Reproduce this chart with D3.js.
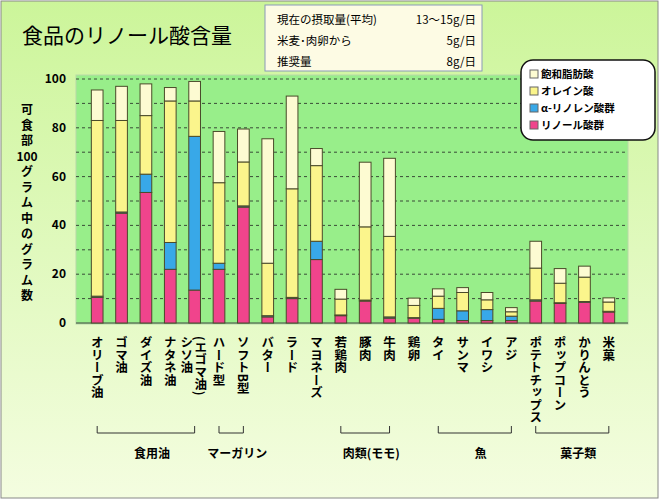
<!DOCTYPE html>
<html><head><meta charset="utf-8">
<script src="https://cdn.jsdelivr.net/npm/d3@7"></script>
<style>body{margin:0}svg{font-family:"Noto Sans CJK JP",sans-serif}</style>
</head><body><svg id="c" width="660" height="500"></svg>
<script>
var foods=["オリーブ油","ゴマ油","ダイズ油","ナタネ油","シソ油","ハード型","ソフトB型","バター","ラード","マヨネーズ","若鶏肉","豚肉","牛肉","鶏卵","タイ","サンマ","イワシ","アジ","ポテトチップス","ポップコーン","かりんとう","米菓"]
var linoleic=[10.5,45,53.5,22,13.5,22,47.5,2.5,10,26,3,9,2,2,1.5,1,1,1,9,8,8.5,4.5]
var linolenic=[0.5,0.5,7.5,11,63,2.5,0.5,0.5,0.5,7.5,0.3,0.4,0.5,0.2,4.5,4,4.5,1.8,0.5,0.3,0.3,0.3]
var oleic=[72,37.5,24,58,14.5,33,18,21.5,44.5,31,6.5,30,33,5,5,7.5,4,1.8,13,8,10,3.8]
var saturated=[12.5,14,13,5.5,8,21,13.5,51,38,7,4,26.5,32,3,3,2,3,1.7,11,6,4.5,1.7]
var seriesNames=["リノール酸群","α-リノレン酸群","オレイン酸","飽和脂肪酸"]
var colors=["#f0448c","#38a8e8","#fbf58c","#fdfbd2"]
var yTicks=[0,20,40,60,80,100]
var groups=[["食用油",0,4],["マーガリン",5,6],["肉類(モモ)",10,12],["魚",14,17],["菓子類",18,21]]
var infoLines=[["現在の摂取量(平均)","13～15g/日"],["米麦･肉卵から","5g/日"],["推奨量","8g/日"]]

var svg=d3.select("#c")
var defs=svg.append("defs")
var g=defs.append("linearGradient").attr("id","bg").attr("x1",0).attr("y1",0).attr("x2",0).attr("y2",1)
g.append("stop").attr("offset","0").attr("stop-color","#ccf59a")
g.append("stop").attr("offset","1").attr("stop-color","#f4fde0")
svg.append("rect").attr("x",1).attr("y",1).attr("width",657).attr("height",497).attr("fill","url(#bg)").attr("stroke","#888")

var x=d3.scaleBand().domain(d3.range(foods.length)).range([85,621]).paddingInner(0.52).paddingOuter(0.26)
var y=d3.scaleLinear().domain([0,100]).range([323,79])

svg.append("rect").attr("x",76).attr("y",75).attr("width",552).attr("height",249).attr("fill","#98ee8a").attr("stroke","#b8d8a8")
svg.selectAll(".grid").data(d3.range(10,101,10)).enter().append("line")
  .attr("x1",76).attr("x2",628).attr("y1",d=>y(d)).attr("y2",d=>y(d))
  .attr("stroke","#222").attr("stroke-width",0.8).attr("stroke-dasharray","3,3")
svg.append("line").attr("x1",76).attr("x2",628).attr("y1",y(0)).attr("y2",y(0)).attr("stroke","#444")
svg.selectAll(".yt").data(yTicks).enter().append("text").attr("x",66).attr("y",d=>y(d)+4)
  .attr("text-anchor","end").attr("font-size",12).attr("font-weight","bold").text(d=>d)

var stack=d3.stack().keys([0,1,2,3]).value((d,k)=>[linoleic,linolenic,oleic,saturated][k][d])
var layers=stack(d3.range(foods.length))
svg.selectAll(".layer").data(layers).enter().append("g").attr("fill",(d,i)=>colors[i])
  .selectAll("rect").data(d=>d).enter().append("rect")
  .attr("x",(d,i)=>x(i)).attr("width",x.bandwidth())
  .attr("y",d=>y(d[1])).attr("height",d=>y(d[0])-y(d[1]))
  .attr("stroke","#4a4a2a").attr("stroke-width",1)

// x labels
var lab=svg.append("g").attr("font-size",12.5).attr("font-weight","bold")
foods.forEach(function(f,i){
  var cx=x(i)+x.bandwidth()/2
  if(i==4){
    lab.append("text").attr("x",cx-8).attr("y",336).style("writing-mode","vertical-rl").text(f)
    lab.append("text").attr("x",cx+6).attr("y",336).style("writing-mode","vertical-rl").text("(エゴマ油)")
  } else {
    lab.append("text").attr("x",cx).attr("y",336).style("writing-mode","vertical-rl").text(f)
  }
})
groups.forEach(function(gp){
  var a=x(gp[1])+x.bandwidth()/2,b=x(gp[2])+x.bandwidth()/2
  svg.append("path").attr("d","M"+a+",426V433H"+b+"V426").attr("fill","none").attr("stroke","#333")
  svg.append("text").attr("x",(a+b)/2+6).attr("y",458).attr("text-anchor","middle")
    .attr("font-size",12).attr("font-weight","bold").text(gp[0])
})

// y axis title
var yt=svg.append("g").attr("font-size",12).attr("font-weight","bold").attr("text-anchor","middle")
var ych=["可","食","部","100","グ","ラ","ム","中","の","グ","ラ","ム","数"]
ych.forEach((c,i)=>yt.append("text").attr("x",27).attr("y",114+i*15.5).text(c))

svg.append("text").attr("x",22).attr("y",43).attr("font-size",21).text("食品のリノール酸含量")

// info box
svg.append("rect").attr("x",265).attr("y",5).attr("width",217).attr("height",66).attr("fill","#fdfbe4").attr("stroke","#8a9ab8")
infoLines.forEach(function(l,i){
  svg.append("text").attr("x",277).attr("y",24+i*21).attr("font-size",11.5).text(l[0])
  svg.append("text").attr("x",476).attr("y",24+i*21).attr("font-size",11.5).attr("text-anchor","end").text(l[1])
})

// legend
svg.append("rect").attr("x",521).attr("y",60).attr("width",134).attr("height",80).attr("rx",12)
  .attr("fill","#fff").attr("stroke","#111").attr("stroke-width",1.5)
var order=[3,2,1,0]
order.forEach(function(k,i){
  svg.append("rect").attr("x",530).attr("y",70+i*17).attr("width",8).attr("height",8).attr("fill",colors[k]).attr("stroke","#666")
  svg.append("text").attr("x",541).attr("y",78+i*17).attr("font-size",10.5).attr("font-weight","bold").text(seriesNames[k])
})
</script></body></html>
